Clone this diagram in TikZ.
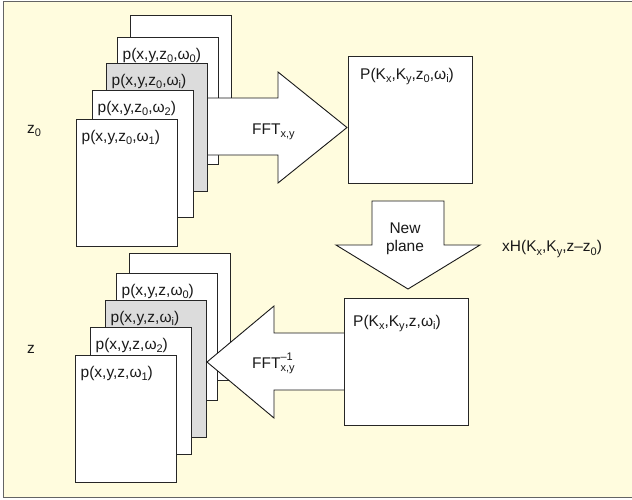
\documentclass[tikz,border=0pt]{standalone}
\usepackage{fontspec}
\setmainfont{Liberation Sans}
% lowered and raised indices in the text font
\newcommand\lo[1]{\raisebox{-3.6pt}{\fontsize{11}{11}\selectfont #1}}
\newcommand\hi[1]{\raisebox{7.5pt}{\fontsize{11}{11}\selectfont #1}}
\newcommand\lohi[2]{\makebox[0pt][l]{\hi{#2}}\lo{#1}}
\definecolor{paper}{RGB}{255,252,222}
\definecolor{frameline}{RGB}{100,100,100}
\definecolor{sheetgray}{RGB}{220,220,220}
\begin{document}
\begin{tikzpicture}[x=1pt,y=-1pt,
  sheet/.style={draw=black!85, line width=0.9pt, fill=white, minimum width=101pt,
    minimum height=127pt, anchor=north west, inner sep=0pt, outer sep=0pt},
  graysheet/.style={sheet, fill=sheetgray},
  pbox/.style={sheet, minimum width=124pt},
  lbl/.style={inner sep=0pt, anchor=base west, font=\fontsize{15.5}{18}\selectfont, text=black!90},
  fatarrow/.style={draw=black!90, line width=0.9pt, fill=white, line join=miter}]

\useasboundingbox (0,0) rectangle (632,499);
% panel
\fill[paper] (3.5,1.5) rectangle (632,497.5);
\draw[frameline, line width=1.6pt] (632,1.5) -- (3.5,1.5) -- (3.5,497.5) -- (632,497.5);

% ---- field stack in plane z0 ----
\node[sheet] (ta) at (130,15) {};
\node[sheet] (t0) at (117,37) {};
\node[lbl] (t0t) at ([shift={(5.5,22)}]t0.north west) {p(x,y,z\lo{0},ω\lo{0})};
\coordinate (fa1s) at (200,126.5);
\draw[fatarrow] (200,98) -- (278,98) -- (278,72) -- (347,127.5) -- (278,183) -- (278,155) -- (200,155) -- cycle;
\node[graysheet, minimum height=128pt] (ti) at (106,63) {};
\node[lbl] (tit) at ([shift={(5.5,22)}]ti.north west) {p(x,y,z\lo{0},ω\lo{i})};
\node[sheet] (t2) at (92,90) {};
\node[lbl] (t2t) at ([shift={(5.5,22)}]t2.north west) {p(x,y,z\lo{0},ω\lo{2})};
\node[sheet] (t1) at (76,119) {};
\node[lbl] (t1t) at ([shift={(5.5,22)}]t1.north west) {p(x,y,z\lo{0},ω\lo{1})};
\node[lbl] (fft) at (252,134) {FFT\lo{x,y}};
\node[lbl] (z0) at (27,133) {z\lo{0}};

% ---- spectrum in plane z0 ----
\node[pbox] (P0) at (348,56) {};
\node[lbl] (P0t) at (360,79) {P(K\lo{x},K\lo{y},z\lo{0},ω\lo{i})};

% ---- propagation to the new plane ----
\draw[fatarrow] (372,201) -- (444,201) -- (444,245) -- (480,245) -- (408,289) -- (336,245) -- (372,245) -- cycle;
\node[font=\fontsize{15.5}{17.7}\selectfont, align=center, inner sep=0pt, text=black!90] (np) at (405,239) {New\\plane};
\node[lbl] (xh) at (502,251.5) {xH(K\lo{x},K\lo{y},z–z\lo{0})};

% ---- field stack in plane z ----
\node[sheet] (ba) at (129,253) {};
\node[sheet] (b0) at (116,273) {};
\node[lbl] (b0t) at ([shift={(5.5,22)}]b0.north west) {p(x,y,z,ω\lo{0})};
\node[graysheet, minimum height=137pt] (bi) at (105,300) {};
\node[lbl] (bit) at ([shift={(5.5,22)}]bi.north west) {p(x,y,z,ω\lo{i})};
\node[sheet] (b2) at (90,327) {};
\node[lbl] (b2t) at ([shift={(5.5,22)}]b2.north west) {p(x,y,z,ω\lo{2})};
\node[sheet] (b1) at (75,355) {};
\node[lbl] (b1t) at ([shift={(5.5,22)}]b1.north west) {p(x,y,z,ω\lo{1})};
\node[lbl] (z) at (27,353) {z};

% ---- inverse transform back to plane z ----
\draw[fatarrow] (350,333) -- (274,333) -- (274,306) -- (207,362) -- (274,418) -- (274,390) -- (350,390) -- cycle;
\node[lbl] (ifft) at (252,368) {FFT\lohi{x,y}{–1}};
\node[pbox] (P1) at (344,298) {};
\node[lbl] (P1t) at (353,326) {P(K\lo{x},K\lo{y},z,ω\lo{i})};
\end{tikzpicture}
\end{document}
